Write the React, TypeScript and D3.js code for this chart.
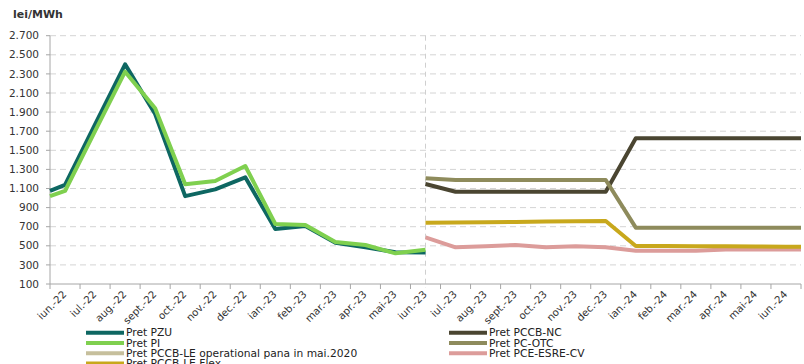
import React from "react";
import * as d3 from "d3";

// Monthly categories on the shared time axis
const months = [
  "iun.-22", "iul.-22", "aug.-22", "sept.-22", "oct.-22", "nov.-22", "dec.-22",
  "ian.-23", "feb.-23", "mar.-23", "apr.-23", "mai-23", "iun.-23",
  "iul.-23", "aug.-23", "sept.-23", "oct.-23", "nov.-23", "dec.-23",
  "ian.-24", "feb.-24", "mar.-24", "apr.-24", "mai-24", "iun.-24",
];

// Historical prices (iun.-22 .. iun.-23), with the value at the start of the period
const pzuStart = 1075;
const piStart = 1020;
const pretPZU = [1137, 1770, 2400, 1880, 1020, 1091, 1217, 676, 707, 532, 484, 432, 430];
const pretPI = [1074, 1700, 2323, 1940, 1144, 1178, 1336, 728, 718, 540, 508, 421, 458];

// Forward prices (iun.-23 .. iun.-24), carried to the end of the period
const pretPCCBNC = [1147, 1066, 1066, 1066, 1066, 1066, 1066, 1626, 1626, 1626, 1626, 1626, 1626];
const pretPCOTC = [1207, 1189, 1189, 1189, 1189, 1189, 1189, 690, 690, 690, 690, 690, 690];
const pretPCCBLEFlex = [742, 744, 746, 750, 754, 757, 760, 498, 497, 496, 494, 492, 490];
const pretPCEESRECV = [589, 484, 496, 508, 484, 496, 484, 448, 448, 448, 460, 462, 462];

const yTicks = [100, 300, 500, 700, 900, 1100, 1300, 1500, 1700, 1900, 2100, 2300, 2500, 2700];

const W = 804;
const H = 364;
const left = 50;
const right = 801;
const top = 35.7;
const bottom = 284;

const fmt = (v: number) => d3.format(",")(v).replace(/,/g, ".");
const font = "'DejaVu Sans', Verdana, sans-serif";

export default function App() {
  const x = d3.scaleLinear().domain([-0.5, months.length - 0.5]).range([left, right]);
  const y = d3.scaleLinear().domain([100, 2700]).range([bottom, top]);
  const line = d3
    .line<[number, number]>()
    .x((d) => x(d[0]))
    .y((d) => y(d[1]))
    .curve(d3.curveLinear);

  const histPts = (start: number, vals: number[]): [number, number][] => [
    [-0.5, start],
    ...vals.map((v, i) => [i, v] as [number, number]),
  ];
  const fwdOffset = 12;
  const fwdPts = (vals: number[]): [number, number][] => [
    ...vals.map((v, i) => [fwdOffset + i, v] as [number, number]),
    [months.length - 0.5, vals[vals.length - 1]],
  ];

  const series = [
    { pts: fwdPts(pretPCEESRECV), color: "#dc9c9a" },
    { pts: fwdPts(pretPCCBLEFlex), color: "#c8a81c" },
    { pts: fwdPts(pretPCCBNC), color: "#4a4531" },
    { pts: fwdPts(pretPCOTC), color: "#8e8b5c" },
    { pts: histPts(pzuStart, pretPZU), color: "#0e6762" },
    { pts: histPts(piStart, pretPI), color: "#7fd04f" },
  ];

  const legendLeft = [
    { label: "Pret PZU", color: "#0e6762" },
    { label: "Pret PI", color: "#7fd04f" },
    { label: "Pret PCCB-LE operational pana in mai.2020", color: "#c6bf9c" },
    { label: "Pret PCCB-LE Flex", color: "#c8a81c" },
  ];
  const legendRight = [
    { label: "Pret PCCB-NC", color: "#4a4531" },
    { label: "Pret PC-OTC", color: "#8e8b5c" },
    { label: "Pret PCE-ESRE-CV", color: "#dc9c9a" },
  ];
  const rowY = (i: number) => 332.7 + i * 10.3;

  const axisColor = "#a6a6a6";

  return (
    <>
      <style>{`body{margin:0}`}</style>
      <svg width={W} height={H} style={{ display: "block", background: "#fff" }} fontFamily={font}>
        {/* unit */}
        <text x={13} y={18} fontSize={11} fontWeight="bold" fill="#333">lei/MWh</text>

        {/* horizontal grid */}
        {yTicks.map((t) => (
          <g key={t}>
            {t > 100 && (
              <line x1={left} x2={right} y1={y(t)} y2={y(t)} stroke="#d4d4d4" strokeDasharray="6,4" />
            )}
            <line x1={left - 4} x2={left} y1={y(t)} y2={y(t)} stroke={axisColor} />
            <text x={39} y={y(t)} dy="0.35em" textAnchor="end" fontSize={10.5} fill="#333">
              {fmt(t)}
            </text>
          </g>
        ))}

        {/* split between history and forward prices */}
        <line x1={x(12)} x2={x(12)} y1={top} y2={bottom + 4} stroke="#cfcfcf" strokeDasharray="5,4" />

        {/* axes */}
        <line x1={left} x2={left} y1={top} y2={bottom} stroke={axisColor} />
        <line x1={left} x2={right} y1={bottom} y2={bottom} stroke={axisColor} />
        {d3.range(months.length + 1).map((i) => (
          <line key={i} x1={x(i - 0.5)} x2={x(i - 0.5)} y1={bottom} y2={bottom + 5} stroke={axisColor} />
        ))}
        {months.map((m, i) => (
          <text
            key={m}
            transform={`translate(${x(i) + 2},${bottom + 11}) rotate(-45)`}
            textAnchor="end"
            fontSize={10.2}
            fill="#333"
          >
            {m}
          </text>
        ))}

        {/* series */}
        {series.map((s, i) => (
          <path
            key={i}
            d={line(s.pts) ?? ""}
            fill="none"
            stroke={s.color}
            strokeWidth={4}
            strokeLinejoin="round"
          />
        ))}

        {/* legend */}
        {legendLeft.map((l, i) => (
          <g key={l.label}>
            <line x1={86} x2={124} y1={rowY(i)} y2={rowY(i)} stroke={l.color} strokeWidth={4} />
            <text x={126} y={rowY(i)} dy="0.35em" fontSize={10.7} fill="#222">{l.label}</text>
          </g>
        ))}
        {legendRight.map((l, i) => (
          <g key={l.label}>
            <line x1={449} x2={487} y1={rowY(i)} y2={rowY(i)} stroke={l.color} strokeWidth={4} />
            <text x={489} y={rowY(i)} dy="0.35em" fontSize={10.7} fill="#222">{l.label}</text>
          </g>
        ))}
      </svg>
    </>
  );
}
